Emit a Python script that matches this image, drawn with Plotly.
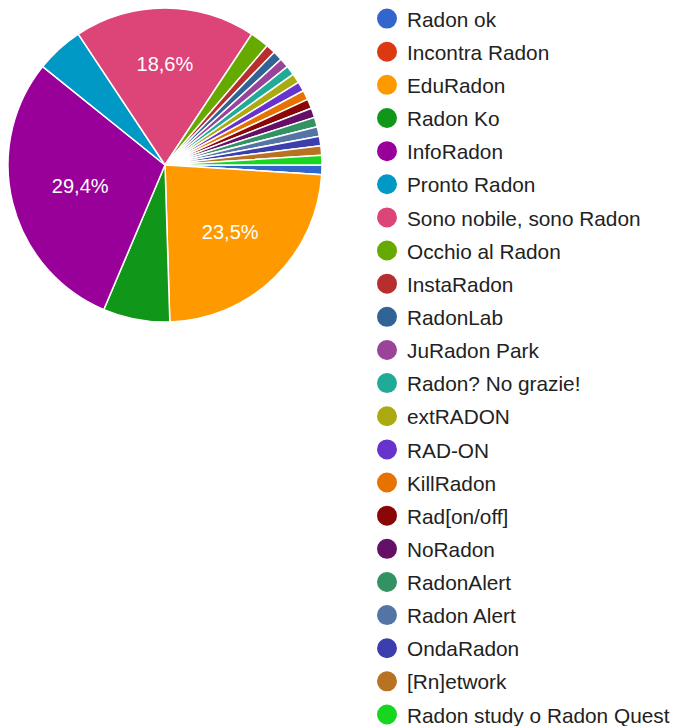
import plotly.graph_objects as go

labels = ["Radon ok", "Incontra Radon", "EduRadon", "Radon Ko", "InfoRadon", "Pronto Radon",
          "Sono nobile, sono Radon", "Occhio al Radon", "InstaRadon", "RadonLab", "JuRadon Park",
          "Radon? No grazie!", "extRADON", "RAD-ON", "KillRadon", "Rad[on/off]", "NoRadon",
          "RadonAlert", "Radon Alert", "OndaRadon", "[Rn]etwork", "Radon study o Radon Quest"]
values = [1, 0, 24, 7, 30, 5, 19, 2, 1, 1, 1, 1, 1, 1, 1, 1, 1, 1, 1, 1, 1, 1]
colors = ["#3366cc", "#dc3912", "#ff9900", "#109618", "#990099", "#0099c6", "#dd4477",
          "#66aa00", "#b82e2e", "#316395", "#994499", "#22aa99", "#aaaa11", "#6633cc",
          "#e67300", "#8b0707", "#651067", "#329262", "#5574a6", "#3b3eac", "#b77322", "#16d620"]

total = sum(values)
texts = []
for v in values:
    p = 100.0 * v / total
    texts.append(("%.1f%%" % p).replace(".", ",") if p >= 10 else "")

W, H = 674, 726
fig = go.Figure()
fig.add_trace(go.Pie(
    labels=labels, values=values, sort=False, direction="clockwise", rotation=90,
    marker=dict(colors=colors, line=dict(color="white", width=1.5)),
    text=texts, textinfo="text", textposition="inside", insidetextorientation="horizontal",
    textfont=dict(color="white", size=20, family="Liberation Sans, Arial, sans-serif"),
    showlegend=False, hoverinfo="label+percent",
    domain=dict(x=[8 / W, 322 / W], y=[1 - 322 / H, 1 - 8 / H]),
))
for lab, col in zip(labels, colors):
    fig.add_trace(go.Scatter(
        x=[None], y=[None], mode="markers", name=lab, legendgroup=lab,
        marker=dict(symbol="circle", size=16, color=col, line=dict(color=col, width=4)),
    ))

fig.update_layout(
    width=W, height=H, margin=dict(l=0, r=0, t=0, b=0, autoexpand=False),
    paper_bgcolor="white", plot_bgcolor="white",
    xaxis=dict(visible=False), yaxis=dict(visible=False),
    font=dict(family="Liberation Sans, Arial, sans-serif", color="#222222"),
    legend=dict(x=367 / W, y=1.002, xanchor="left", yanchor="top", traceorder="grouped",
                tracegroupgap=3.1, font=dict(size=20.8, color="#222222"), maxheight=900,
                itemsizing="trace", bgcolor="rgba(0,0,0,0)"),
)
fig.write_html("out.html")
